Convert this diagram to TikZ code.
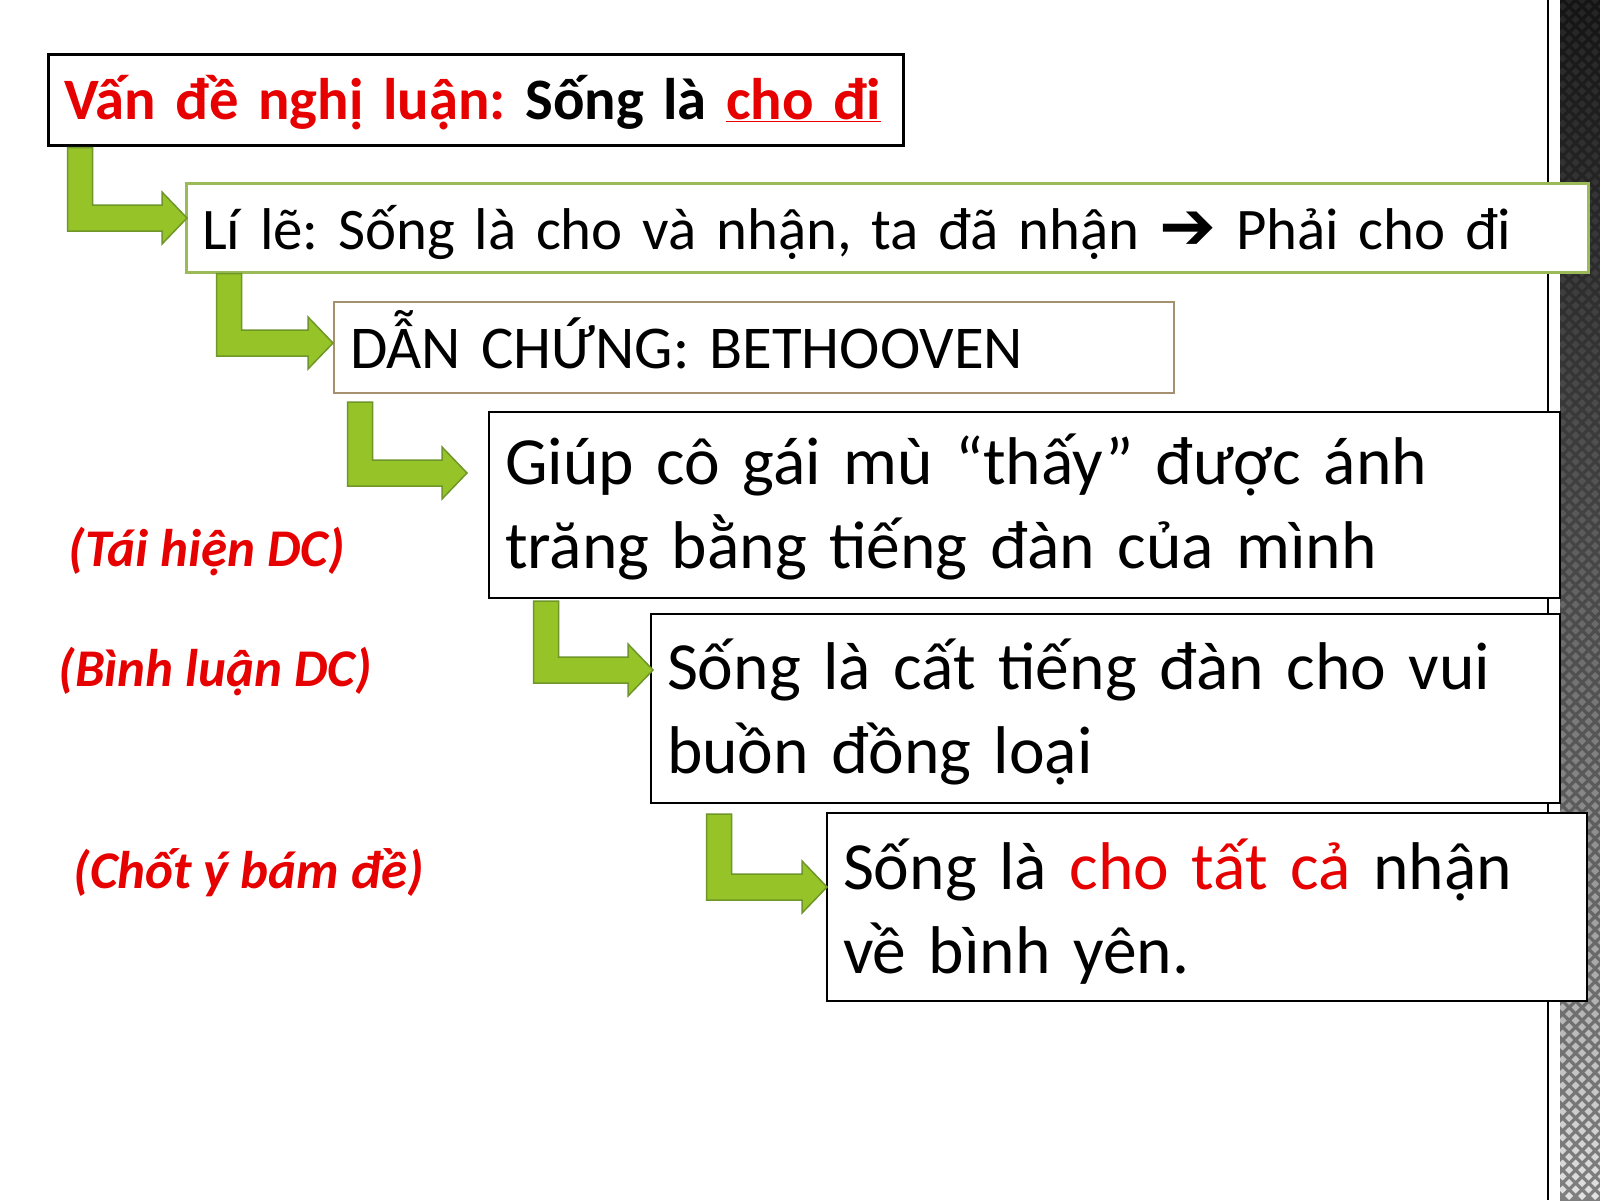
\documentclass[tikz,border=0pt]{standalone}
\usepackage{fontspec}
\setmainfont{Carlito}
\newfontfamily\symfont{DejaVu Sans}
\usetikzlibrary{calc}
\frenchspacing

\definecolor{slidered}{RGB}{230,0,0}
\definecolor{boxgreen}{RGB}{155,187,89}
\definecolor{boxtan}{RGB}{165,145,110}
\definecolor{arrowfill}{RGB}{150,196,40}
\definecolor{arrowline}{RGB}{110,150,40}

% bent arrow: #1 top of the bar, #2 tip of the head
\newcommand{\bentarrow}[2]{%
  \filldraw[bent] let \p1=(#1), \p2=(#2) in
    (\x1-12.5pt,\y1) -- (\x1+12.5pt,\y1) -- (\x1+12.5pt,\y2+13pt)
    -- (\x2-25pt,\y2+13pt) -- (\x2-25pt,\y2+26pt) -- (\x2,\y2)
    -- (\x2-25pt,\y2-26pt) -- (\x2-25pt,\y2-13pt) -- (\x1-12.5pt,\y2-13pt) -- cycle;}

\begin{document}
\begin{tikzpicture}[
            x = 1pt, y = -1pt, % one unit is one pixel, y runs down
            line join = miter,
            bent/.style = {fill = arrowfill, draw = arrowline, line width = 1.5pt}
        ]

        \tikzstyle{box}=[
            draw = black,
            line width = 2pt,
            fill = white,
            anchor = north west,
            inner xsep = 16pt,
            inner ysep = 0pt,
            align = left
        ]
        \tikzstyle{big}=[font = \fontsize{67.5}{84}\selectfont, text depth = 98pt]
        \tikzstyle{note}=[anchor = base west, text = slidered,
            font = \bfseries\itshape\fontsize{53}{60}\selectfont]

        \useasboundingbox (0,0) rectangle (1600,1200);
        \fill[white] (0,0) rectangle (1600,1200);

        % dark strip on the right
        \shade[top color = black!92, bottom color = black!50] (1560,0) rectangle (1600,1200);
        \begin{scope}
            \clip (1560,0) rectangle (1600,1200);
            \foreach \row in {0,...,184}{
                \pgfmathsetmacro{\shine}{0.07+0.7*(\row/184)^3}
                \pgfmathsetmacro{\shift}{6.5*mod(\row,2)}
                \foreach \col in {0,...,4}
                    \fill[white, opacity = \shine] (1556+13*\col+\shift, 6.5*\row-4)
                        -- ++(4,4) -- ++(-4,4) -- ++(-4,-4) -- cycle;
            }
        \end{scope}
        \draw[line width = 1.5pt] (1548,0) -- (1548,1200);

        \node[box, line width = 2.5pt, minimum width = 855pt, minimum height = 91pt,
            text width = 823pt, text height = 46pt, text depth = 7pt,
            font = \bfseries\fontsize{58.7}{70}\selectfont] (topic) at (47,53)
            {\mbox{\textcolor{slidered}{Vấn đề nghị luận:} Sống là \textcolor{slidered}{\underline{cho đi}}}};
        \node[box, draw = boxgreen, line width = 2.5pt, minimum width = 1402pt,
            minimum height = 89pt, text width = 1370pt, text height = 48pt, text depth = 5pt,
            font = \fontsize{58.9}{70}\selectfont] (reason) at (185,182)
            {\mbox{Lí lẽ: Sống là cho và nhận, ta đã nhận {\symfont\bfseries\fontsize{68}{70}\selectfont ➔} Phải cho đi}};
        \node[box, draw = boxtan, minimum width = 840pt, minimum height = 91pt,
            text width = 808pt, text height = 46pt, text depth = 5pt,
            font = \fontsize{60.8}{72}\selectfont] (evidence) at (333,301)
            {\mbox{DẪN CHỨNG: BETHOOVEN}};
        \node[box, big, minimum width = 1071pt, minimum height = 186pt,
            text width = 1039pt, text height = 56pt] (retell) at (488,411)
            {Giúp cô gái mù “thấy” được ánh\\trăng bằng tiếng đàn của mình};
        \node[box, big, minimum width = 909pt, minimum height = 189pt,
            text width = 877pt, text height = 59pt] (comment) at (650,613)
            {Sống là cất tiếng đàn cho vui\\buồn đồng loại};
        \node[box, big, minimum width = 760pt, minimum height = 188pt,
            text width = 728pt, text height = 62pt] (conclude) at (826,812)
            {Sống là \textcolor{slidered}{cho tất cả} nhận\\về bình yên.};

        \node[note] (retellnote) at (65,566) {(Tái hiện DC)};
        \node[note] (commentnote) at (55,686) {(Bình luận DC)};
        \node[note] (concludenote) at (70,888) {(Chốt ý bám đề)};

        \bentarrow{$(topic.south west)+(33,1)$}{$(reason.north west)+(2,36)$}
        \bentarrow{$(reason.south west)+(44,0)$}{$(evidence.north west)+(0,42)$}
        \bentarrow{$(evidence.south west)+(27,8)$}{$(retell.north west)+(-21,62)$}
        \bentarrow{$(retell.south west)+(58,2)$}{$(comment.north west)+(3,57)$}
        \bentarrow{$(comment.south west)+(69,10)$}{$(conclude.north west)+(1,75)$}

\end{tikzpicture}
\end{document}
